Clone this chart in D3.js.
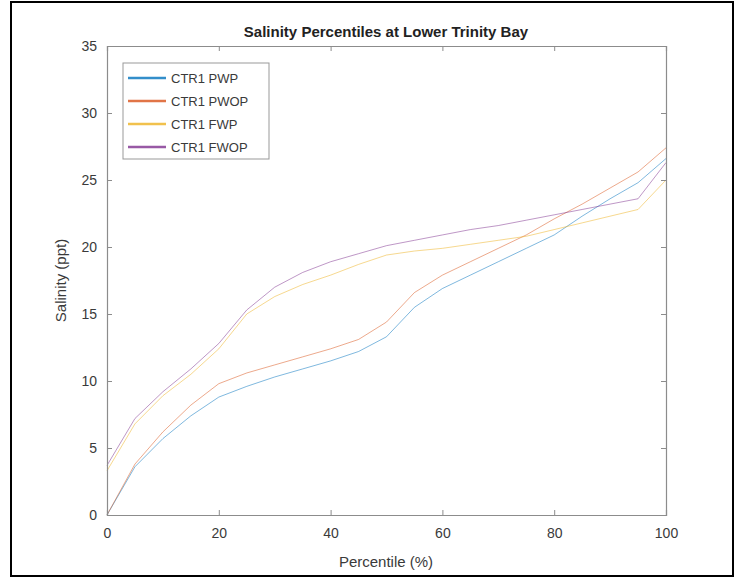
<!DOCTYPE html>
<html><head><meta charset="utf-8">
<script src="https://cdn.jsdelivr.net/npm/d3@7"></script>
<style>body{margin:0;background:#fff;} text{font-family:"Liberation Sans",Arial,sans-serif;}</style>
</head><body>
<svg id="c" width="741" height="578"></svg>
<script>
const percentiles = [0,5,10,15,20,25,30,35,40,45,50,55,60,65,70,75,80,85,90,95,100];
const ctr1PWP  = [0,3.6,5.7,7.4,8.8,9.6,10.3,10.9,11.5,12.2,13.3,15.5,16.9,17.9,18.9,19.9,20.9,22.3,23.6,24.8,26.6];
const ctr1PWOP = [0,3.8,6.2,8.2,9.8,10.6,11.2,11.8,12.4,13.1,14.4,16.6,17.9,18.9,19.9,20.9,22.1,23.2,24.4,25.6,27.4];
const ctr1FWP  = [3.3,6.8,8.9,10.5,12.4,15.0,16.3,17.2,17.9,18.7,19.4,19.7,19.9,20.2,20.5,20.8,21.3,21.8,22.3,22.8,25.0];
const ctr1FWOP = [3.7,7.2,9.2,10.9,12.8,15.3,17.0,18.1,18.9,19.5,20.1,20.5,20.9,21.3,21.6,22.0,22.4,22.8,23.2,23.6,26.3];
const seriesNames = ["CTR1 PWP","CTR1 PWOP","CTR1 FWP","CTR1 FWOP"];
const seriesColors = ["#0072BD","#D95319","#EDB120","#7E2F8E"];
const xTicks = [0,20,40,60,80,100];
const yTicks = [0,5,10,15,20,25,30,35];

const svg = d3.select("#c");
svg.append("rect").attr("x",11).attr("y",2).attr("width",722).attr("height",574)
  .attr("fill","none").attr("stroke","#000").attr("stroke-width",2);

const L=107,R=666,T=46,B=515;
const x = d3.scaleLinear().domain([0,100]).range([L,R]);
const y = d3.scaleLinear().domain([0,35]).range([B,T]);
const axisCol="#8c8c8c", textCol="#3a3a3a";

const g = svg.append("g");
const allSeries=[ctr1PWP,ctr1PWOP,ctr1FWP,ctr1FWOP];
const line = d3.line().x((d,i)=>x(percentiles[i])).y(d=>y(d));
allSeries.forEach((s,k)=>{
  g.append("path").datum(s).attr("d",line).attr("fill","none")
   .attr("stroke",seriesColors[k]).attr("stroke-width",1).attr("stroke-opacity",0.5);
});

const xa = svg.append("g").attr("transform",`translate(0,${B})`)
  .call(d3.axisBottom(x).tickValues(xTicks).tickSize(-5).tickPadding(13));
const xt = svg.append("g").attr("transform",`translate(0,${T})`)
  .call(d3.axisTop(x).tickValues(xTicks).tickSize(-5).tickFormat(""));
const ya = svg.append("g").attr("transform",`translate(${L},0)`)
  .call(d3.axisLeft(y).tickValues(yTicks).tickSize(-5).tickPadding(10));
const yr = svg.append("g").attr("transform",`translate(${R},0)`)
  .call(d3.axisRight(y).tickValues(yTicks).tickSize(-5).tickFormat(""));
[xa,xt,ya,yr].forEach(a=>{
  a.selectAll("path").attr("stroke",axisCol).attr("stroke-width",1.2);
  a.selectAll("line").attr("stroke",axisCol);
  a.selectAll("text").attr("fill",textCol).style("font-size","14px").style("font-family","Liberation Sans, Arial, sans-serif");
});

svg.append("text").attr("x",386).attr("y",37).attr("text-anchor","middle")
  .style("font-size","15px").style("font-weight","bold").attr("fill","#222")
  .text("Salinity Percentiles at Lower Trinity Bay");
svg.append("text").attr("x",386).attr("y",567).attr("text-anchor","middle")
  .style("font-size","15px").attr("fill",textCol).text("Percentile (%)");
svg.append("text").attr("transform",`translate(66,${(T+B)/2}) rotate(-90)`).attr("text-anchor","middle")
  .style("font-size","15px").attr("fill",textCol).text("Salinity (ppt)");

const lg = svg.append("g");
lg.append("rect").attr("x",123).attr("y",63).attr("width",146).attr("height",96)
  .attr("fill","#fff").attr("stroke","#999").attr("stroke-width",1);
seriesNames.forEach((n,k)=>{
  const yy = 78 + k*23;
  lg.append("line").attr("x1",128).attr("x2",166).attr("y1",yy).attr("y2",yy)
    .attr("stroke",seriesColors[k]).attr("stroke-width",2.5).attr("stroke-opacity",0.8);
  lg.append("text").attr("x",171).attr("y",yy+4.5).style("font-size","13px").attr("fill",textCol).text(n);
});
</script>
</body></html>
